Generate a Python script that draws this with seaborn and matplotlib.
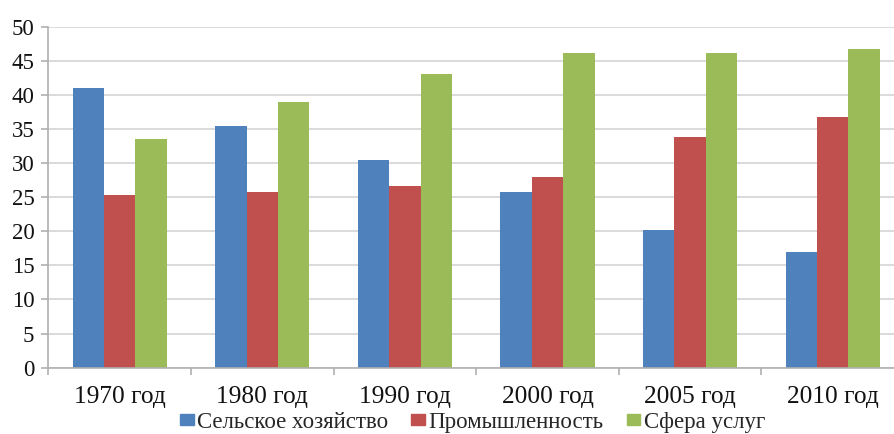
import matplotlib
matplotlib.use("Agg")
import matplotlib.pyplot as plt
import seaborn as sns
import pandas as pd
import numpy as np

years = ["1970 год", "1980 год", "1990 год", "2000 год", "2005 год", "2010 год"]
series = ["Сельское хозяйство", "Промышленность", "Сфера услуг"]
agri = [41.0, 35.4, 30.4, 25.7, 20.2, 16.9]
industry = [25.3, 25.7, 26.6, 28.0, 33.8, 36.7]
services = [33.6, 38.9, 43.0, 46.2, 46.2, 46.7]
colors = ["#4F81BD", "#C0504D", "#9BBB59"]

rows = []
for s, vals in zip(series, [agri, industry, services]):
    for y, v in zip(years, vals):
        rows.append({"year": y, "series": s, "value": v})
df = pd.DataFrame(rows)

sns.set_theme(style="white")
plt.rcParams["font.family"] = ["Liberation Serif", "DejaVu Serif"]

fig = plt.figure(figsize=(8.95, 4.34), dpi=100)
W, H = 895, 434
left, right, top, bottom = 48.3, 904, 26.7, 367.7
ax = fig.add_axes([left / W, 1 - bottom / H, (right - left) / W, (bottom - top) / H])

sns.barplot(data=df, x="year", y="value", hue="series", palette=colors,
            width=0.66, gap=0, saturation=1, ax=ax, legend=True, linewidth=0)

ax.set_xlim(-0.5, 5.5)
ax.set_ylim(0, 50)
ax.set_yticks(np.arange(0, 51, 5))
ax.set_xlabel("")
ax.set_ylabel("")
ax.grid(axis="y", color="#d4d4d4", linewidth=1.2)
ax.set_axisbelow(True)
for sp in ["top", "right"]:
    ax.spines[sp].set_visible(False)
for sp in ["left", "bottom"]:
    ax.spines[sp].set_color("#b0b0b0")
    ax.spines[sp].set_linewidth(1.2)

ax.tick_params(axis="y", which="major", length=5, width=1.2, color="#b0b0b0",
               direction="out", labelsize=16.5, pad=5, left=True)
ax.tick_params(axis="x", which="major", length=0, labelsize=18.3, pad=13)
ax.set_xticks(np.arange(-0.5, 6, 1.0), minor=True)
ax.tick_params(axis="x", which="minor", length=5, width=1.2, color="#b0b0b0",
               direction="out", bottom=True)
for t in ax.get_yticklabels() + ax.get_xticklabels():
    t.set_color("#111111")
    t.set_family(["Liberation Serif", "DejaVu Serif"])

ax.get_legend().remove()
handles = [plt.Rectangle((0, 0), 1, 1, color=c) for c in colors]
fig.legend(handles, series, loc="lower center", bbox_to_anchor=(0.528, -0.045),
           ncol=3, frameon=False, handlelength=0.6, handleheight=0.4,
           handletextpad=0.15, columnspacing=1.0,
           prop={"family": ["Liberation Serif", "DejaVu Serif"], "size": 16.5})

fig.savefig("out.png", dpi=100)
